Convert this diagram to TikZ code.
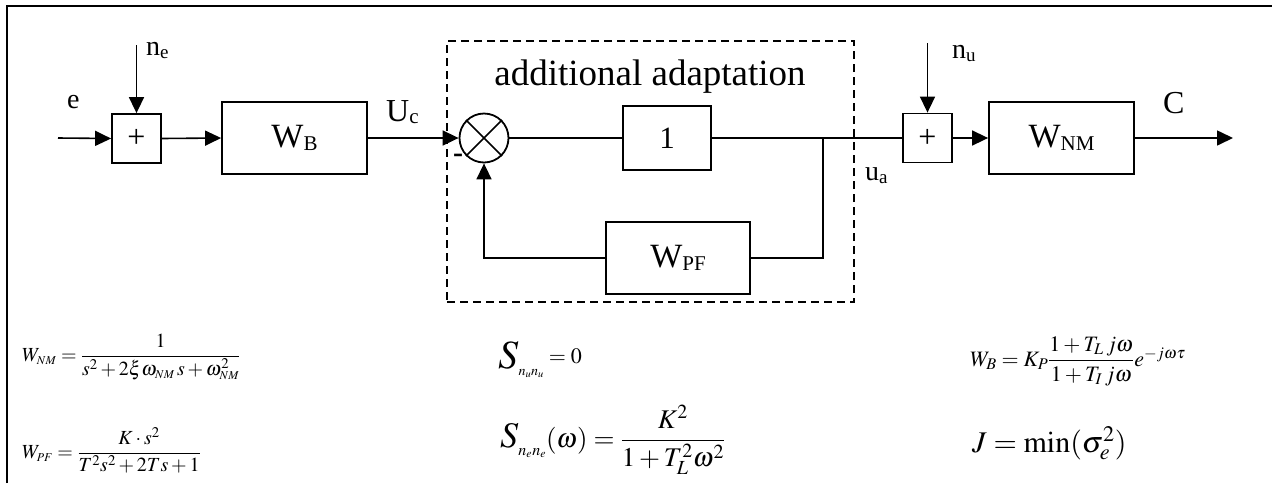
\documentclass[tikz,border=0pt]{standalone}
\usepackage{amsmath}
\usepackage{mathptmx}
\usepackage{fontspec}
\setmainfont{Liberation Serif}
\usetikzlibrary{arrows.meta}
\newcommand\setfs[1]{\fontsize{#1}{#1}\selectfont}
\newcommand\lsub[1]{\raisebox{-2.5pt}{\fontsize{21}{21}\selectfont #1}}
\newcommand\ssub[1]{\raisebox{-3pt}{\fontsize{19}{19}\selectfont #1}}
\tikzset{
 blk/.style={draw, line width=1.8pt, inner sep=0pt, minimum width=145pt, minimum height=72pt, font=\setfs{34}},
 sumbox/.style={draw, line width=1.8pt, minimum size=49pt, inner sep=0pt, font=\setfs{32}},
 conn/.style={line width=1.6pt},
 arr/.style={conn, -{Triangle[length=16pt,width=15pt]}},
 lbl/.style={inner sep=0pt, anchor=base west, font=\setfs{32}},
 slbl/.style={inner sep=0pt, anchor=base west, font=\setfs{28}},
 formula/.style={inner sep=0pt, anchor=base west},
 dashbox/.style={draw, line width=1.6pt, dash pattern=on 8pt off 5pt, minimum width=407pt, minimum height=261pt, inner sep=0pt},
}
\begin{document}
\begin{tikzpicture}[x=1pt,y=-1pt]
\useasboundingbox (0,0) rectangle (1272,483);
% frame
\draw[line width=2.2pt] (7,483) -- (7,6) -- (1272,6);

% dashed adaptation box
\node[dashbox] (adapt) at (650.5,171.5) {};
\node[inner sep=0pt, anchor=base, font=\setfs{37}] (adtitle) at (650,85) {additional adaptation};

% nodes
\coordinate (ein) at (58,138);
\coordinate (nein) at (136.5,45);
\node[sumbox] (s1) at (136.5,138.5) {+};
\node[blk] (wb) at (294.5,138) {W\lsub{B}};
\node[draw, circle, line width=1.8pt, minimum size=49pt, inner sep=0pt] (sc) at (484,138) {};
\node[blk, minimum width=88pt, minimum height=64pt, font=\setfs{31}] (one) at (667,138) {1};
\coordinate (j) at (823,138);
\node[blk, minimum width=144pt] (wpf) at (678,258) {W\lsub{PF}};
\node[sumbox] (s2) at (927.5,138) {+};
\coordinate (nuin) at (927.5,43);
\node[blk] (wnm) at (1061.5,138) {W\lsub{NM}};
\coordinate (out) at (1233,138);

% labels
\node[slbl] (le) at (67,108) {e};
\node[slbl] (lne) at (146,55) {n\ssub{e}};
\node[lbl] (luc) at (386,121) {U\lsub{c}};
\node[slbl] (lua) at (865,180) {u\ssub{a}};
\node[slbl] (lnu) at (952,58) {n\ssub{u}};
\node[lbl] (lc) at (1163,113) {C};
\node[inner sep=0pt, font=\setfs{30}\bfseries] (minus) at (458,158) {-};

% connectors
\draw[arr] (ein) -- (s1.west);
\draw[arr] (nein) -- (s1.north);
\draw[arr] (s1.east) -- (wb.west);
\draw[arr] (wb.east) -- (sc.west);
\draw[conn] (sc.45) -- (sc.225) (sc.135) -- (sc.315);
\draw[conn] (sc.east) -- (one.west);
\draw[conn] (one.east) -- (j);
\draw[conn] (j) |- (wpf.east);
\draw[arr] (wpf.west) -| (sc.south);
\draw[conn] (j) -- (s2.west);
\draw[arr] (nuin) -- (s2.north);
\draw[arr] (s2.east) -- (wnm.west);
\draw[arr] (wnm.east) -- (out);

% formulas
\node[formula] (fnm) at (22,361) {\setfs{20}$W_{\scriptscriptstyle NM}=\dfrac{1}{s^{2}+2\xi\omega_{\scriptscriptstyle NM}\,s+\omega_{\scriptscriptstyle NM}^{2}}$};
\node[formula] (fpf) at (22,458) {\setfs{20}$W_{\scriptscriptstyle PF}=\dfrac{K\cdot s^{2}}{T^{2}s^{2}+2Ts+1}$};
\node[formula] (fsnu) at (498,368) {\setfs{40}$S$\setfs{14}\raisebox{-7pt}{$n_{u}n_{u}$}\setfs{22}\raisebox{5pt}{${}=0$}};
\node[formula] (fsne) at (500,447) {\setfs{36}$S$\setfs{16}\raisebox{-8pt}{$n_{e}n_{e}$}\setfs{27}$(\omega)=\dfrac{K^{2}}{1+T_{L}^{2}\omega^{2}}$};
\node[formula] (fwb) at (970,366) {\setfs{22}$W_{B}=K_{P}\dfrac{1+T_{L}\,j\omega}{1+T_{I}\,j\omega}e^{-j\omega\tau}$};
\node[formula] (fj) at (972,452) {\setfs{30}$J=\min(\sigma^{2}_{e})$};
\end{tikzpicture}
\end{document}
